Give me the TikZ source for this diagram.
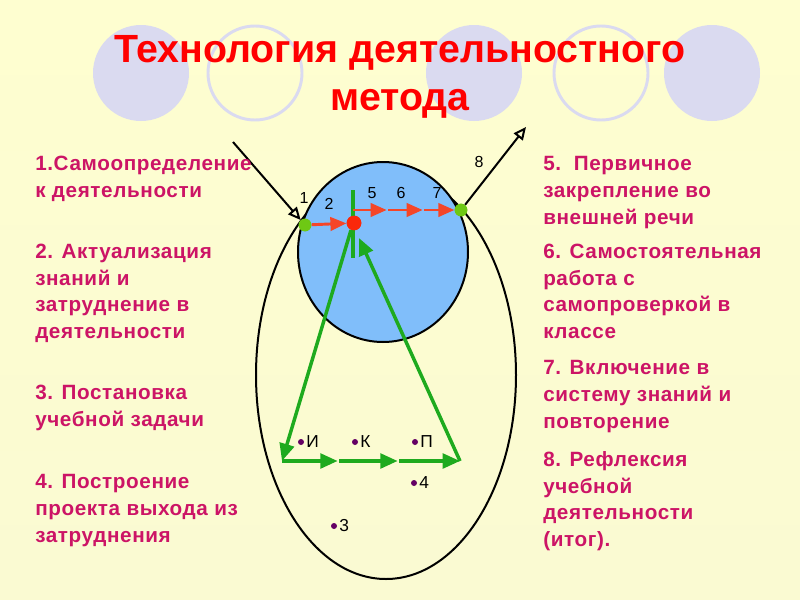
\documentclass[tikz,border=0pt]{standalone}
\usepackage{fontspec}
\setmainfont{Liberation Sans}
\newfontfamily\titlefont{Liberation Sans}
\newfontfamily\bodyfont{Liberation Sans}[LetterSpace=3]
\usetikzlibrary{arrows.meta}
\definecolor{bgtop}{RGB}{254,254,208}
\definecolor{bgmid}{RGB}{222,221,238}
\definecolor{bgbot}{RGB}{250,250,210}
\definecolor{deco}{RGB}{218,218,240}
\definecolor{txt}{RGB}{204,20,102}
\definecolor{ttl}{RGB}{255,0,0}
\definecolor{blu}{RGB}{128,190,250}
\definecolor{grn}{RGB}{30,170,30}
\definecolor{gdot}{RGB}{110,200,20}
\definecolor{rdl}{RGB}{245,70,40}
\definecolor{rdot}{RGB}{250,40,10}
\definecolor{pur}{RGB}{100,0,100}
\begin{document}
\begin{tikzpicture}[x=0.75pt,y=-0.75pt,
  decofill/.style={fill=deco},
  decoline/.style={draw=deco,line width=2.2pt},
  ttlstyle/.style={anchor=base,text=ttl,font=\titlefont\bfseries\fontsize{29.5pt}{34pt}\selectfont,inner sep=0pt},
  body/.style={anchor=base west,align=left,text=txt,inner sep=0pt,font=\bodyfont\bfseries\fontsize{15.5pt}{19.9pt}\selectfont},
  num/.style={font=\fontsize{12pt}{14pt}\selectfont,inner sep=0pt},
  blackarr/.style={draw=black,line width=1.5pt,-{Triangle[open,length=9.5pt,width=8.5pt]}},
  redarr/.style={draw=rdl,line width=2.2pt,-{Triangle[length=12pt,width=10pt]}},
  grnline/.style={draw=grn,line width=2.6pt},
  grnarr/.style={grnline,-{Triangle[length=13pt,width=11pt]}},
  gdotst/.style={circle,fill=gdot,minimum size=9.5pt,inner sep=0pt},
  rdotst/.style={circle,fill=rdot,minimum size=11pt,inner sep=0pt},
  pdot/.style={circle,fill=pur,minimum size=4.5pt,inner sep=0pt},
  plabel/.style={anchor=west,font=\fontsize{13pt}{14pt}\selectfont,inner sep=0pt}]
\useasboundingbox (0,0) rectangle (800,600);
\shade[top color=bgtop,middle color=bgmid,bottom color=bgbot] (0,0) rectangle (800,600);
% decorative circles
\fill[decofill] (141,73) circle (48);
\draw[decoline] (255,73) circle (47);
\fill[decofill] (474,73) circle (48);
\draw[decoline] (601,73) circle (47);
\fill[decofill] (712,73) circle (48);
% title
\node[ttlstyle] (title1) at (400,62) {Технология деятельностного};
\node[ttlstyle] (title2) at (400,110) {метода};
% ellipse and circle
\draw[line width=1.5pt] (386,375) ellipse [x radius=130, y radius=204];
\draw[line width=1.5pt,fill=blu] (383,252) ellipse [x radius=85, y radius=90];
% coordinates
\coordinate (inS) at (233,142);
\coordinate (outE) at (526,127);
\coordinate (v1) at (353,190);
\coordinate (v2) at (353,258);
\coordinate (r0) at (353,210);
\coordinate (r1) at (388,210);
\coordinate (r2) at (424,210);
\coordinate (apex) at (351,230);
\coordinate (tipT) at (359,238);
\coordinate (bl) at (282,461);
\coordinate (b1) at (339,461);
\coordinate (b2) at (399,461);
\coordinate (br) at (460,461);
\node[gdotst] (gL) at (305,225) {};
\node[gdotst] (gR) at (461,210) {};
\node[rdotst] (rd) at (354,223) {};
% green lines
\draw[grnline] (v1) -- (v2);
\draw[grnarr] (apex) -- (bl);
\draw[grnarr,shorten >=1pt] (bl) -- (b1);
\draw[grnarr,shorten >=1pt] (b1) -- (b2);
\draw[grnarr] (b2) -- (br);
\draw[grnarr] (br) -- (tipT);
% red lines
\draw[redarr,shorten >=1pt] (r0) -- (r1);
\draw[redarr,shorten >=1pt] (r1) -- (r2);
\draw[redarr] (r2) -- (gR);
\draw[redarr] (gL) -- (rd);
% black arrows
\draw[blackarr] (inS) -- (gL);
\draw[blackarr] (gR) -- (outE);
% dots on top
\node[gdotst] at (gL) {};
\node[gdotst] at (gR) {};
\node[rdotst] at (rd) {};
% numbers
\node[num] (n1) at (304,198) {1};
\node[num] (n2) at (329,204) {2};
\node[num] (n5) at (372,193) {5};
\node[num] (n6) at (401,193) {6};
\node[num] (n7) at (437,193) {7};
\node[num] (n8) at (479,162) {8};
% purple dots
\node[pdot] (pI) at (301,442) {};
\node[plabel] (lI) at (306,442) {И};
\node[pdot] (pK) at (355,442) {};
\node[plabel] (lK) at (360,442) {К};
\node[pdot] (pP) at (415,442) {};
\node[plabel] (lP) at (420,442) {П};
\node[pdot] (p4) at (414,483) {};
\node[plabel] (l4) at (419,483) {4};
\node[pdot] (p3) at (334,526) {};
\node[plabel] (l3) at (339,526) {3};
% text blocks (anchor = baseline of last line)
\node[body] (t1) at (35,197.5) {1.Самоопределение\\к деятельности};
\node[body] (t2) at (35,338.5) {2. Актуализация\\знаний и\\затруднение в\\деятельности};
\node[body] (t3) at (35,426.5) {3. Постановка\\учебной задачи};
\node[body] (t4) at (35,542) {4. Построение\\проекта выхода из\\затруднения};
\node[body] (t5) at (543,224) {5.\ \ Первичное\\закрепление во\\внешней речи};
\node[body] (t6) at (543,338.5) {6. Самостоятельная\\работа с\\самопроверкой в\\классе};
\node[body] (t7) at (543,428) {7. Включение в\\систему знаний и\\повторение};
\node[body] (t8) at (543,546.5) {8. Рефлексия\\учебной\\деятельности\\(итог).};
\end{tikzpicture}
\end{document}
